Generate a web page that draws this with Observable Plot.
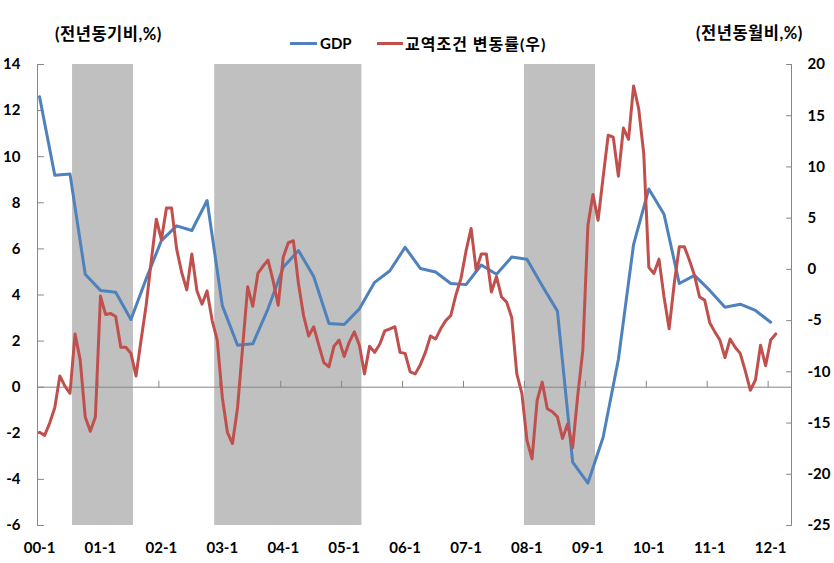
<!DOCTYPE html>
<html><head><meta charset="utf-8">
<script src="https://cdn.jsdelivr.net/npm/d3@7"></script>
<script src="https://cdn.jsdelivr.net/npm/@observablehq/plot@0.6"></script>
<style>
body{margin:0;background:#fff;}
#wrap{width:834px;height:563px;position:relative;font-family:Lato,"Noto Sans CJK KR",sans-serif;font-weight:bold;color:#000;}
#head{position:relative;width:834px;height:56px;}
.t{position:absolute;white-space:nowrap;line-height:1;}
.sw{position:absolute;height:3px;}
#chart svg{display:block;}
</style></head><body>
<div id="wrap">
  <div id="head">
    <div class="t" id="lt" style="left:55px;top:26px;font-size:16.5px;letter-spacing:0.5px;"></div>
    <div class="t" id="rt" style="left:696px;top:25px;font-size:16.5px;letter-spacing:0.5px;"></div>
    <div class="sw" id="sw1" style="left:290px;top:42px;width:27px;"></div>
    <div class="t" id="lg1" style="left:320px;top:36px;font-size:15px;"></div>
    <div class="sw" id="sw2" style="left:377px;top:42px;width:26px;"></div>
    <div class="t" id="lg2" style="left:405px;top:36px;font-size:16px;letter-spacing:1px;"></div>
  </div>
  <div id="chart"></div>
</div>
<script>
// ---- texts ----
const leftTitle = "(전년동기비,%)";
const rightTitle = "(전년동월비,%)";
const seriesNames = ["GDP", "교역조건 변동률(우)"];
const seriesColors = ["#4F81BD", "#C0504D"];

// ---- tick labels ----
const xLabels = ["00-1","01-1","02-1","03-1","04-1","05-1","06-1","07-1","08-1","09-1","10-1","11-1","12-1"];
const leftTicks = [-6,-4,-2,0,2,4,6,8,10,12,14];
const rightTicks = [-25,-20,-15,-10,-5,0,5,10,15,20];

// ---- GDP, quarterly from 00-1 (left axis, %) ----
const gdp = [12.6, 9.2, 9.25, 4.9, 4.2, 4.12, 2.94, 4.7, 6.36, 7.0, 6.8, 8.1,
  3.54, 1.82, 1.88, 3.4, 5.2, 5.93, 4.8, 2.76, 2.72, 3.4, 4.55, 5.05,
  6.07, 5.15, 5.0, 4.5, 4.45, 5.3, 4.9, 5.65, 5.55, 4.4, 3.3, -3.25,
  -4.16, -2.17, 1.2, 6.2, 8.6, 7.5, 4.5, 4.85, 4.2, 3.47, 3.6, 3.33, 2.82];

// ---- terms of trade change, monthly from 00-1 (right axis, %) ----
const tot = [
  -15.9, -16.2, -15.0, -13.5, -10.4, -11.4, -12.1, -6.3, -8.8, -14.4, -15.8, -14.4,
  -2.6, -4.4, -4.3, -4.6, -7.6, -7.6, -8.2, -10.4, -6.9, -3.5, 0.8, 4.9,
  2.9, 6.0, 6.0, 2.0, -0.3, -2.0, 1.5, -2.1, -3.4, -2.1, -5.0, -6.9,
  -12.5, -15.9, -17.0, -13.5, -7.6, -1.7, -3.6, -0.4, 0.3, 0.9, -1.1, -3.5,
  1.2, 2.6, 2.8, -1.4, -4.5, -6.5, -5.6, -7.4, -9.1, -9.5, -7.5, -6.9,
  -8.5, -7.1, -6.1, -7.4, -10.2, -7.5, -8.1, -7.3, -6.0, -5.8, -5.6, -8.1,
  -8.2, -10.0, -10.2, -9.3, -8.1, -6.5, -6.8, -5.8, -5.0, -4.5, -2.5, -0.9,
  1.8, 4.0, -0.1, 1.5, 1.5, -2.2, -0.7, -2.7, -3.2, -4.7, -10.2, -12.1,
  -16.7, -18.5, -12.8, -11.0, -13.6, -13.9, -14.4, -16.5, -15.1, -17.4, -12.3, -7.9,
  4.3, 7.3, 4.8, 9.0, 13.1, 12.9, 9.1, 13.8, 12.7, 17.9, 15.7, 11.3,
  0.2, -0.4, 1.0, -2.7, -5.8, -1.4, 2.2, 2.2, 0.9, -0.6, -2.7, -3.0,
  -5.2, -6.1, -6.9, -8.6, -6.8, -7.6, -8.2, -9.9, -11.8, -10.8, -7.4, -9.4,
  -6.9, -6.3];

// ---- shaded periods (first month, last month) ----
const shadeStart = ["00-8", "02-12", "08-1"];
const shadeEnd   = ["01-7", "05-4", "09-2"];

// ---- header ----
document.getElementById("lt").textContent = leftTitle;
document.getElementById("rt").textContent = rightTitle;
document.getElementById("lg1").textContent = seriesNames[0];
document.getElementById("lg2").textContent = seriesNames[1];
document.getElementById("sw1").style.background = seriesColors[0];
document.getElementById("sw2").style.background = seriesColors[1];

// ---- helpers ----
const idx = s => { const [y, m] = s.split("-").map(Number); return y * 12 + m - 1; };
const toLeft = v => (v + 25) * 20 / 45 - 6;
const fromLeft = L => (L + 6) * 45 / 20 - 25;
const xMin = -0.4, xMax = 148.1;

const gdpData = gdp.map((v, i) => ({m: i * 3, v}));
const totData = tot.map((v, i) => ({m: i, v}));
const shadeData = shadeStart.map((s, i) => ({x1: idx(s) - 0.5, x2: idx(shadeEnd[i]) + 0.5}));
const xTickPos = xLabels.map(idx);
const yearBounds = xLabels.slice(1).map(s => idx(s) - 0.5);
const rightTickPos = rightTicks.map(toLeft);

const axisColor = "#868686";
const tickRight = {draw(c, l) { c.moveTo(0, 0); c.lineTo(l, 0); }};
const tickLeft = {draw(c, l) { c.moveTo(0, 0); c.lineTo(-l, 0); }};
const tickUp = {draw(c, l) { c.moveTo(0, 0); c.lineTo(0, -l); }};

const chart = Plot.plot({
  width: 834, height: 507,
  marginTop: 8, marginBottom: 38, marginLeft: 37, marginRight: 43,
  x: {type: "linear", domain: [xMin, xMax], axis: null, label: null},
  y: {domain: [-6, 14], axis: null, label: null},
  style: {fontFamily: "Lato, 'Noto Sans CJK KR', sans-serif", fontSize: "15px", fontWeight: "bold", color: "#000", background: "#fff", overflow: "visible"},
  marks: [
    Plot.rect(shadeData, {x1: "x1", x2: "x2", fill: "#C0C0C0"}),
    Plot.ruleY([0], {stroke: axisColor, strokeWidth: 1}),
    Plot.ruleX([xMin], {stroke: axisColor, strokeWidth: 1}),
    Plot.ruleX([xMax], {stroke: axisColor, strokeWidth: 1}),
    Plot.vector(leftTicks, {x: xMin, y: d => d, length: 6, anchor: "start", shape: tickRight, stroke: axisColor, strokeWidth: 1}),
    Plot.vector(rightTickPos, {x: xMax, y: d => d, length: 5, anchor: "start", shape: tickLeft, stroke: axisColor, strokeWidth: 1}),
    Plot.vector(yearBounds, {x: d => d, y: 0, length: 6, anchor: "start", shape: tickUp, stroke: axisColor, strokeWidth: 1}),
    Plot.axisY(leftTicks, {anchor: "left", label: null, tickSize: 0, tickPadding: 17, tickFormat: d => String(d)}),
    Plot.axisY(rightTickPos, {anchor: "right", label: null, tickSize: 0, tickPadding: 16, tickFormat: d => String(Math.round(fromLeft(d)))}),
    Plot.axisX(xTickPos, {anchor: "bottom", label: null, tickSize: 0, tickPadding: 17, tickFormat: d => xLabels[xTickPos.indexOf(d)]}),
    Plot.line(gdpData, {x: "m", y: "v", stroke: seriesColors[0], strokeWidth: 3}),
    Plot.line(totData, {x: "m", y: d => toLeft(d.v), stroke: seriesColors[1], strokeWidth: 3})
  ]
});
document.getElementById("chart").appendChild(chart);
</script>
</body></html>
